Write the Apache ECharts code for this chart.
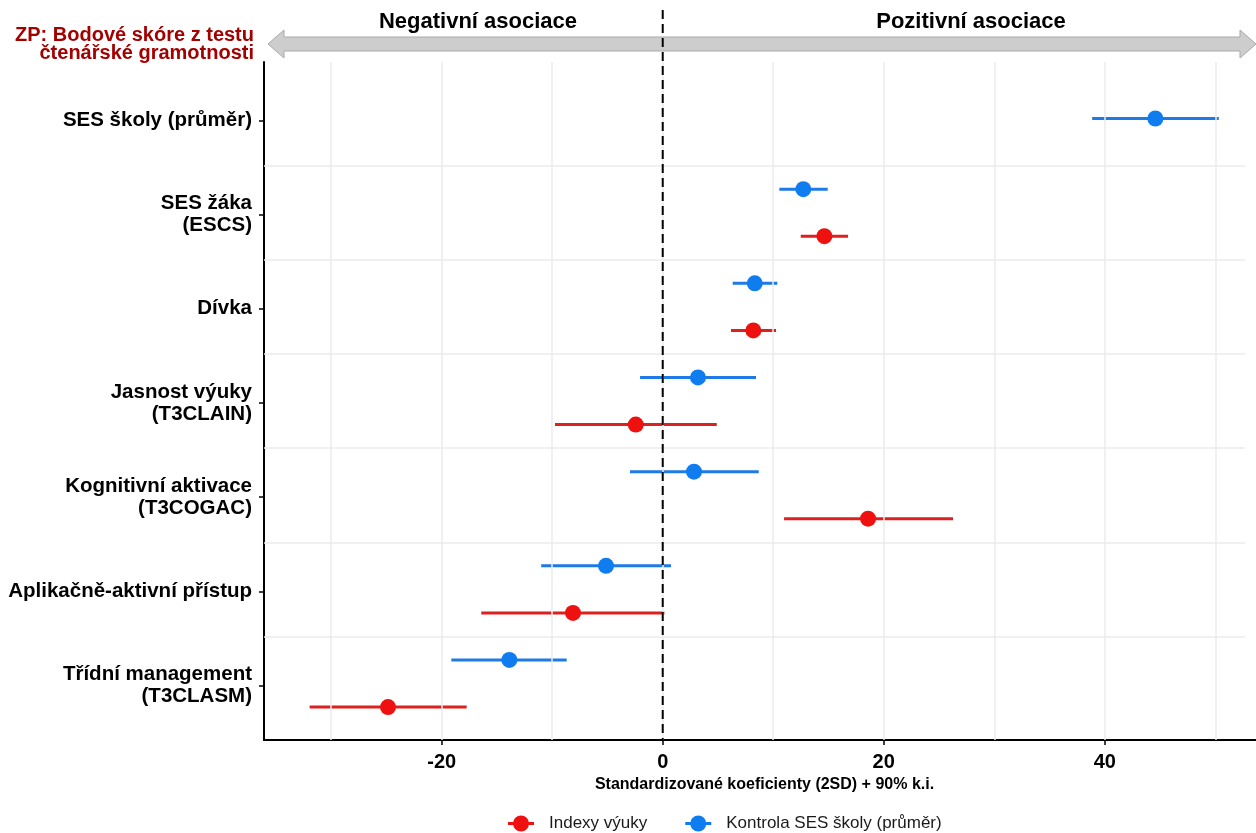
<!DOCTYPE html>
<html>
<head>
<meta charset="utf-8">
<script src="https://cdn.jsdelivr.net/npm/echarts@6/dist/echarts.min.js"></script>
<style>
html,body{margin:0;padding:0;overflow:hidden;background:#fff;}
#chart{width:1265px;height:833px;}
</style>
</head>
<body>
<div id="chart"></div>
<script>
// ---- data ----
const categories = [
  'SES školy (průměr)',
  'SES žáka\n(ESCS)',
  'Dívka',
  'Jasnost výuky\n(T3CLAIN)',
  'Kognitivní aktivace\n(T3COGAC)',
  'Aplikačně-aktivní přístup',
  'Třídní management\n(T3CLASM)'
];
const seriesNames = ['Indexy výuky', 'Kontrola SES školy (průměr)'];
const blueEst = [44.58, 12.72, 8.33, 3.19, 2.83, -5.13, -13.88];
const blueLo  = [38.86, 10.55, 6.33, -2.05, -2.96, -11.0, -19.13];
const blueHi  = [50.32, 14.93, 10.37, 8.44, 8.69, 0.75, -8.69];
const redEst  = [null, 14.63, 8.20, -2.44, 18.58, -8.12, -24.86];
const redLo   = [null, 12.49, 6.18, -9.75, 10.98, -16.42, -31.95];
const redHi   = [null, 16.77, 10.25, 4.89, 26.27, 0.15, -17.74];
const xTicks = [-20, 0, 20, 40];
const xGrid = [-30, -20, -10, 0, 10, 20, 30, 40, 50];
const xTitle = 'Standardizované koeficienty (2SD) + 90% k.i.';
const dvTitle = ['ZP: Bodové skóre z testu', 'čtenářské gramotnosti'];
const negLabel = 'Negativní asociace';
const posLabel = 'Pozitivní asociace';

// ---- styles ----
const RED_PT = '#EF1010', RED_LN = '#DD2020';
const BLUE_PT = '#0F7CF0', BLUE_LN = '#1E7AE4';
const XMIN = -36.08, XMAX = 54.5, YMIN = -0.6, YMAX = 6.6;
const FONT = '"Liberation Sans", Arial, sans-serif';

const blueY = categories.map((c, i) => redEst[i] == null ? i : i - 0.25);
const redY = categories.map((c, i) => i + 0.25);

const blueCI = [], bluePts = [], redCI = [], redPts = [];
categories.forEach((c, i) => {
  blueCI.push([blueLo[i], blueHi[i], blueY[i]]);
  bluePts.push([blueEst[i], blueY[i]]);
  if (redEst[i] != null) {
    redCI.push([redLo[i], redHi[i], redY[i]]);
    redPts.push([redEst[i], redY[i]]);
  }
});

function ciRender(color) {
  return function (params, api) {
    const a = api.coord([api.value(0), api.value(2)]);
    const b = api.coord([api.value(1), api.value(2)]);
    return {type: 'line', shape: {x1: a[0], y1: a[1], x2: b[0], y2: b[1]},
            style: {stroke: color, lineWidth: 3}};
  };
}

const sepLines = [];
for (let k = 0; k < categories.length - 1; k++) {
  sepLines.push([{coord: [XMIN, k + 0.5]}, {coord: [52.7, k + 0.5]}]);
}
const vLines = xGrid.map(v => [{coord: [v, YMIN]}, {coord: [v, YMAX]}]);

const legendIcon = 'path://M0,6.5 L26,6.5 L26,9.5 L0,9.5 Z M5,8 A8,8 0 1,1 21,8 A8,8 0 1,1 5,8 Z';

const chart = echarts.init(document.getElementById('chart'), null, {renderer: 'canvas'});
const plotTop = 62, plotH = 678;
const unit = plotH / (YMAX - YMIN);
const option = {
  animation: false,
  backgroundColor: '#fff',
  textStyle: {fontFamily: FONT},
  grid: [
    {left: 264, right: 0, top: plotTop, height: plotH},
    {left: 264, right: 0, top: plotTop + (-0.5 - YMIN) * unit + 2, height: categories.length * unit}
  ],
  legend: {
    left: 503, top: 810,
    itemWidth: 26, itemHeight: 16, itemGap: 38,
    data: [
      {name: seriesNames[0], icon: legendIcon, itemStyle: {color: RED_PT}},
      {name: seriesNames[1], icon: legendIcon, itemStyle: {color: BLUE_PT}}
    ],
    textStyle: {fontSize: 17, color: '#1a1a1a', padding: [0, 0, 0, 10], fontFamily: FONT}
  },
  xAxis: [
    {
      type: 'value', gridIndex: 0, min: XMIN, max: XMAX,
      axisLine: {show: true, onZero: false, lineStyle: {color: '#000', width: 2}},
      axisTick: {show: true, customValues: xTicks, length: 5, lineStyle: {color: '#000', width: 1.5}},
      axisLabel: {customValues: xTicks, fontSize: 20, fontWeight: 'bold', color: '#000', margin: 12},
      splitLine: {show: false},
      name: xTitle, nameLocation: 'middle', nameGap: 37,
      nameTextStyle: {fontSize: 16, fontWeight: 'bold', color: '#000'}
    },
    {type: 'value', gridIndex: 1, show: false, min: XMIN, max: XMAX}
  ],
  yAxis: [
    {
      type: 'value', gridIndex: 0, min: YMIN, max: YMAX, inverse: true,
      axisLine: {show: true, onZero: false, lineStyle: {color: '#000', width: 2}},
      axisTick: {show: false}, axisLabel: {show: false}, splitLine: {show: false}
    },
    {
      type: 'category', gridIndex: 1, data: categories, inverse: true, position: 'left',
      axisLine: {show: false, onZero: false},
      axisTick: {show: true, alignWithLabel: true, length: 5, lineStyle: {color: '#000', width: 1.5}},
      axisLabel: {fontSize: 20.5, fontWeight: 'bold', color: '#000', lineHeight: 22, margin: 12, align: 'right'},
      splitLine: {show: false}
    }
  ],
  series: [
    {
      type: 'line', xAxisIndex: 0, yAxisIndex: 0, data: [], silent: true, z: 1,
      markLine: {
        silent: true, symbol: 'none', label: {show: false}, animation: false,
        lineStyle: {color: '#EBEBEB', width: 1.5, type: 'solid'},
        data: vLines.concat(sepLines)
      }
    },
    {
      type: 'custom', name: seriesNames[0], xAxisIndex: 0, yAxisIndex: 0, z: 3,
      renderItem: ciRender(RED_LN), data: redCI, encode: {x: [0, 1], y: 2},
      itemStyle: {color: RED_PT}
    },
    {
      type: 'scatter', name: seriesNames[0], xAxisIndex: 0, yAxisIndex: 0, z: 4,
      data: redPts, symbolSize: 16, itemStyle: {color: RED_PT, opacity: 1}
    },
    {
      type: 'custom', name: seriesNames[1], xAxisIndex: 0, yAxisIndex: 0, z: 3,
      renderItem: ciRender(BLUE_LN), data: blueCI, encode: {x: [0, 1], y: 2},
      itemStyle: {color: BLUE_PT}
    },
    {
      type: 'scatter', name: seriesNames[1], xAxisIndex: 0, yAxisIndex: 0, z: 4,
      data: bluePts, symbolSize: 16, itemStyle: {color: BLUE_PT, opacity: 1}
    }
  ]
};
chart.setOption(option);

// header decorations
const x0 = chart.convertToPixel({xAxisIndex: 0}, 0);
const ay = 44, bodyH = 7, headH = 14, headL = 16, ax1 = 268, ax2 = 1256;
chart.setOption({
  graphic: [
    {
      type: 'polygon', z: 5,
      shape: {points: [
        [ax1, ay], [ax1 + headL, ay - headH], [ax1 + headL, ay - bodyH],
        [ax2 - headL, ay - bodyH], [ax2 - headL, ay - headH], [ax2, ay],
        [ax2 - headL, ay + headH], [ax2 - headL, ay + bodyH],
        [ax1 + headL, ay + bodyH], [ax1 + headL, ay + headH]
      ]},
      style: {fill: '#CDCDCD', stroke: '#A9A9A9', lineWidth: 1}
    },
    {
      type: 'line', z: 10,
      shape: {x1: x0, y1: 10, x2: x0, y2: plotTop + plotH},
      style: {stroke: '#000', lineWidth: 2, lineDash: [9, 5]}
    },
    {
      type: 'text', z: 6, x: 478, y: 22,
      style: {text: negLabel, font: 'bold 22px ' + FONT,
              fill: '#000', align: 'center', verticalAlign: 'middle'}
    },
    {
      type: 'text', z: 6, x: 971, y: 22,
      style: {text: posLabel, font: 'bold 22px ' + FONT,
              fill: '#000', align: 'center', verticalAlign: 'middle'}
    },
    {
      type: 'text', z: 6, x: 254, y: 35,
      style: {text: dvTitle[0], font: 'bold 20px ' + FONT,
              fill: '#A30000', align: 'right', verticalAlign: 'middle'}
    },
    {
      type: 'text', z: 6, x: 254, y: 53,
      style: {text: dvTitle[1], font: 'bold 20px ' + FONT,
              fill: '#A30000', align: 'right', verticalAlign: 'middle'}
    }
  ]
});
</script>
</body>
</html>
